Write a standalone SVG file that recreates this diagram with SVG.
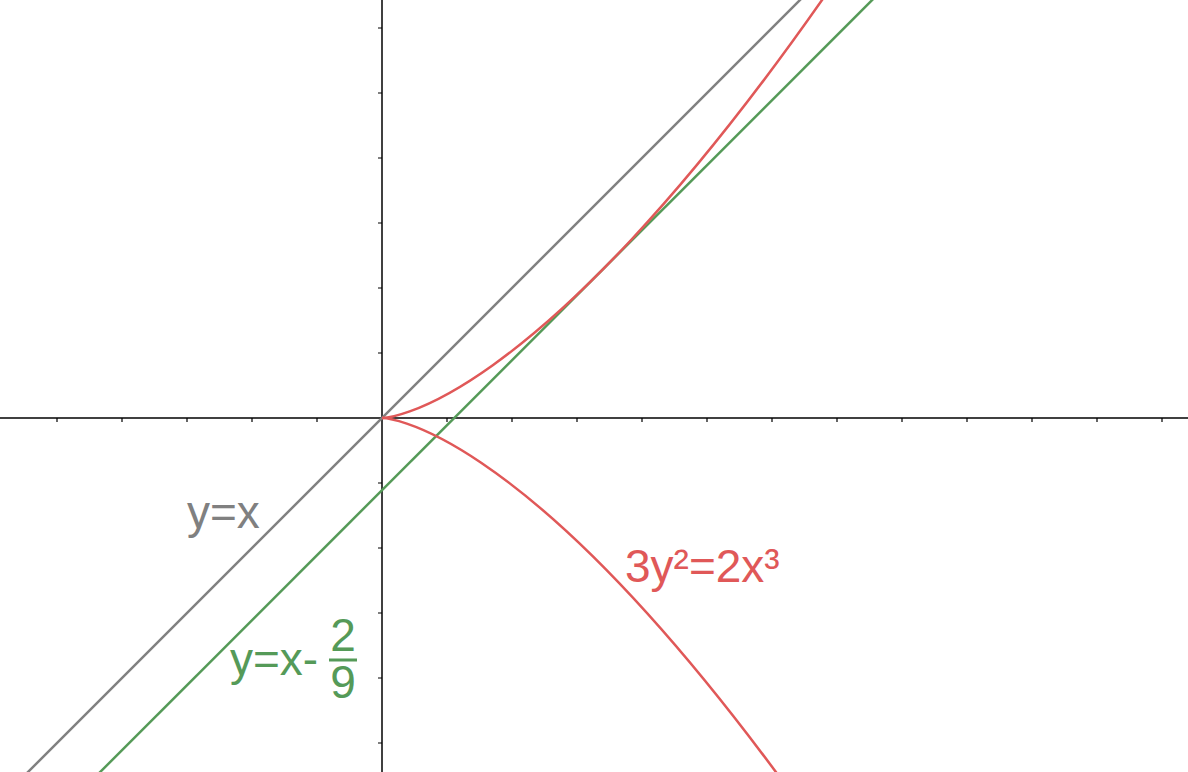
<svg xmlns="http://www.w3.org/2000/svg" width="1188" height="772" viewBox="0 0 1188 772">
<style>
.ax{stroke:#000;stroke-width:1.5;fill:none}
.tk{stroke:#000;stroke-width:1.2;fill:none}
.gray{stroke:#808080;stroke-width:2.5;fill:none}
.green{stroke:#559a58;stroke-width:2.5;fill:none}
.red{stroke:#e05858;stroke-width:2.5;fill:none}
text{font-family:"Liberation Sans",Arial,sans-serif;font-size:46px}
</style>
<rect width="1188" height="772" fill="#fff"/>
<g id="axes">
<line class="ax" x1="0" y1="418" x2="1188" y2="418"/>
<line class="ax" x1="382" y1="0" x2="382" y2="772"/>
<path class="tk" d="M57,418v4M122,418v4M187,418v4M252,418v4M317,418v4M447,418v4M512,418v4M577,418v4M642,418v4M707,418v4M772,418v4M837,418v4M902,418v4M967,418v4M1032,418v4M1097,418v4M1162,418v4"/>
<path class="tk" d="M382,28h-4M382,93h-4M382,158h-4M382,223h-4M382,288h-4M382,353h-4M382,483h-4M382,548h-4M382,613h-4M382,678h-4M382,743h-4"/>
</g>
<g id="connectors">
<line id="line-yx" class="gray" x1="810" y1="-10" x2="18" y2="782"/>
<line id="line-tangent" class="green" x1="882.2" y1="-10" x2="90.2" y2="782"/>
<path id="curve-upper" class="red" d="M382,418 C382,418 529.7,418 825.2,-4.5"/>
<path id="curve-lower" class="red" d="M382,418 C382,418 514.2,418 778.5,775.5"/>
</g>
<g id="label-yx">
<text x="187" y="528" fill="#808080">y=x</text>
</g>
<g id="label-curve">
<text x="625" y="582" fill="#e05858">3y²=2x³</text>
</g>
<g id="label-tangent">
<text x="230" y="675" fill="#559a58">y=x-</text>
<text x="343" y="651" fill="#559a58" text-anchor="middle">2</text>
<rect x="329" y="658.5" width="28" height="3" fill="#559a58"/>
<text x="343" y="698" fill="#559a58" text-anchor="middle">9</text>
</g>
</svg>
